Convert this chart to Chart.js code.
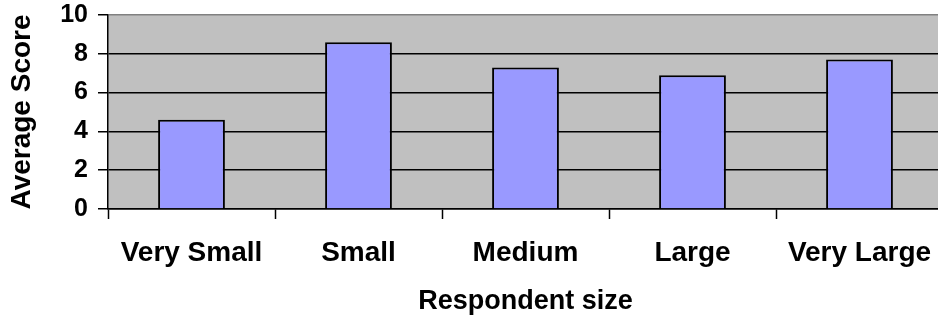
<!DOCTYPE html>
<html>
<head>
<meta charset="utf-8">
<script src="https://cdn.jsdelivr.net/npm/chart.js@4/dist/chart.umd.min.js"></script>
<style>
  html, body { margin: 0; padding: 0; background: #ffffff; overflow: hidden; }
  #wrap { position: absolute; left: 0; top: 0; width: 943px; height: 324px; }
</style>
</head>
<body>
<div id="wrap"><canvas id="chart" width="943" height="324"></canvas></div>
<script>
// Average score by respondent size
const categories = ['Very Small', 'Small', 'Medium', 'Large', 'Very Large'];
const averageScores = [4.6, 8.6, 7.3, 6.9, 7.7];
const yTicks = [0, 2, 4, 6, 8, 10];

const FONT = '"Liberation Sans", Arial, Helvetica, sans-serif';

// Grey plot background behind the bars
const plotBackground = {
  id: 'plotBackground',
  beforeDraw(chart) {
    const { ctx, chartArea: a } = chart;
    ctx.save();
    ctx.fillStyle = '#c0c0c0';
    ctx.fillRect(a.left, a.top, a.right - a.left, a.bottom - a.top);
    ctx.restore();
  }
};

new Chart(document.getElementById('chart'), {
  type: 'bar',
  data: {
    labels: categories,
    datasets: [{
      data: averageScores,
      backgroundColor: '#9999ff',
      borderColor: '#000000',
      borderWidth: 2,
      barPercentage: 0.4,
      categoryPercentage: 1.0
    }]
  },
  options: {
    responsive: false,
    devicePixelRatio: 1,
    animation: false,
    layout: { padding: { top: 15, right: 0, bottom: 0, left: 0 } },
    plugins: {
      legend: { display: false },
      tooltip: { enabled: false }
    },
    scales: {
      x: {
        offset: true,
        grid: {
          offset: true,
          drawOnChartArea: false,
          drawTicks: true,
          tickLength: 10,
          tickColor: '#000000',
          tickWidth: 1.5
        },
        border: { display: true, color: '#000000', width: 1.5 },
        ticks: {
          color: '#000000',
          font: { family: FONT, size: 28, weight: 'bold' },
          padding: 17,
          maxRotation: 0,
          autoSkip: false
        },
        title: {
          display: true,
          text: 'Respondent size',
          color: '#000000',
          font: { family: FONT, size: 27, weight: 'bold' },
          padding: { top: 0, bottom: 6 }
        },
        afterFit(scale) {
          scale.height = 115;
          scale.paddingLeft = 0;
          scale.paddingRight = 0;
        }
      },
      y: {
        min: 0,
        max: 10,
        afterBuildTicks(scale) { scale.ticks = yTicks.map(v => ({ value: v })); },
        grid: {
          color: ctx => (ctx.tick && ctx.tick.value === 10 ? '#808080' : '#000000'),
          lineWidth: 1.5,
          drawTicks: true,
          tickLength: 10,
          tickColor: '#000000',
          tickWidth: 1.5
        },
        border: { display: true, color: '#000000', width: 1.5 },
        ticks: {
          color: '#000000',
          font: { family: FONT, size: 25, weight: 'bold' },
          padding: 10
        },
        title: {
          display: true,
          text: 'Average Score',
          color: '#000000',
          font: { family: FONT, size: 28, weight: 'bold' },
          padding: { top: 5, bottom: 0 }
        },
        afterFit(scale) {
          scale.width = 108;
          scale.paddingTop = 15;
          scale.paddingBottom = 0;
        }
      }
    }
  },
  plugins: [plotBackground]
});
</script>
</body>
</html>
